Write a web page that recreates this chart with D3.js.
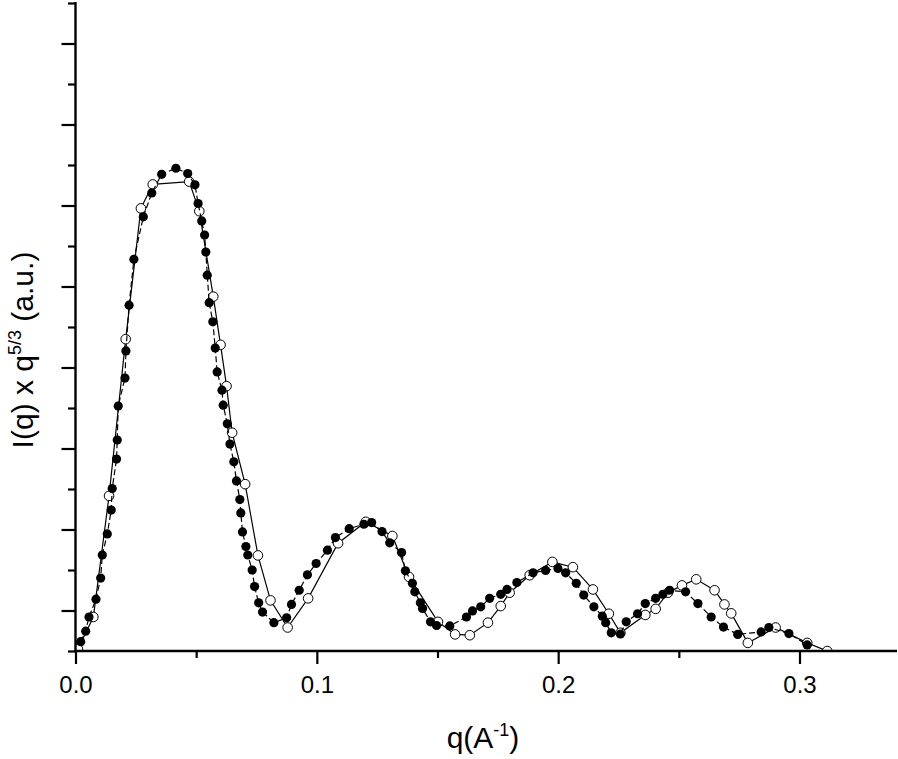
<!DOCTYPE html>
<html><head><meta charset="utf-8">
<script src="https://cdn.jsdelivr.net/npm/d3@7/dist/d3.min.js"></script>
<style>
body{margin:0;background:#fff}
text{font-family:"Liberation Sans",Arial,Helvetica,sans-serif;fill:#000}
</style>
</head><body>
<svg id="chart" width="898" height="759"></svg>
<script>
// Filled circles (dashed line)
const qFilled=[0.00215,0.00422,0.00559,0.00849,0.01043,0.0111,0.01317,0.0148,0.0152,0.0170,0.0173,0.0177,0.0205,0.0209,0.0222,0.0242,0.0281,0.0316,0.0357,0.0416,0.0465,0.0495,0.0508,0.0523,0.0535,0.0540,0.0546,0.0554,0.0569,0.0579,0.0587,0.0607,0.0612,0.0629,0.0640,0.0656,0.0667,0.0681,0.0685,0.0692,0.0706,0.0714,0.0732,0.0742,0.0759,0.0775,0.0822,0.0875,0.0895,0.0927,0.0961,0.0997,0.1044,0.1077,0.1134,0.1195,0.1227,0.1270,0.1302,0.1351,0.1367,0.1396,0.1406,0.1429,0.1438,0.1471,0.1496,0.1551,0.1620,0.1645,0.1679,0.1716,0.1762,0.1788,0.1829,0.1896,0.1948,0.1999,0.2031,0.2075,0.2106,0.2148,0.2183,0.2197,0.2220,0.2258,0.2282,0.2329,0.2361,0.2404,0.2434,0.2462,0.2528,0.2579,0.2634,0.2685,0.2744,0.2841,0.2873,0.2956,0.3032];
const iFilled=[0.23,0.49,0.84,1.28,1.80,2.37,2.89,3.48,4.01,4.74,5.21,6.05,6.74,7.41,8.54,9.67,10.72,11.31,11.77,11.92,11.79,11.51,11.05,10.62,10.27,9.85,9.28,8.60,8.13,7.48,6.89,6.44,6.07,5.61,5.11,4.67,4.20,3.74,3.41,2.94,2.58,2.37,2.00,1.59,1.19,0.96,0.70,0.82,1.15,1.50,1.88,2.16,2.49,2.80,3.02,3.13,3.17,2.95,2.67,2.43,1.98,1.67,1.46,1.19,1.05,0.72,0.63,0.62,0.84,0.99,1.09,1.30,1.40,1.52,1.69,1.93,1.99,2.04,1.93,1.67,1.38,1.09,0.86,0.70,0.45,0.42,0.72,0.92,1.17,1.30,1.40,1.50,1.46,1.17,0.84,0.59,0.41,0.47,0.58,0.43,0.15];
// Open circles (solid line)
const qOpen=[0.0010,0.0074,0.0139,0.0208,0.0271,0.0320,0.0471,0.0513,0.0571,0.0601,0.0626,0.0649,0.0703,0.0756,0.0808,0.0879,0.0964,0.1088,0.1203,0.1313,0.1382,0.1502,0.1573,0.1634,0.1709,0.1762,0.1799,0.1882,0.1976,0.2061,0.2144,0.2210,0.2258,0.2361,0.2404,0.2455,0.2513,0.2572,0.2648,0.2689,0.2717,0.2786,0.2901,0.3032,0.3115];
const iOpen=[0.05,0.84,3.83,7.70,10.93,11.52,11.59,10.86,8.75,7.56,6.54,5.39,4.12,2.36,1.25,0.58,1.30,2.66,3.19,2.84,1.83,0.72,0.41,0.39,0.70,1.11,1.44,1.87,2.20,2.07,1.52,0.92,0.45,0.89,1.04,1.44,1.62,1.77,1.50,1.15,0.93,0.20,0.58,0.20,0.00];

const xMajorTicks=[0,0.1,0.2,0.3];
const xMinorTicks=[0.05,0.15,0.25];
const yMajorTicks=[1,3,5,7,9,11,13,15];
const yMinorTicks=[0,2,4,6,8,10,12,14,16];
const xTitle={base:"q(A",sup:"-1",tail:")"};
const yTitle={base:"I(q) x q",sup:"5/3",tail:" (a.u.)"};

const svg=d3.select("#chart");
const x=d3.scaleLinear().domain([0,0.3]).range([75.5,799.5]);
const y=d3.scaleLinear().domain([0,16]).range([651,3]);
const xEnd=897;

svg.append("defs").append("clipPath").attr("id","plot")
  .append("rect").attr("x",x(0)).attr("y",0).attr("width",xEnd-x(0)).attr("height",y(0));

const g=svg.append("g").attr("clip-path","url(#plot)");
const line=d3.line().x(d=>x(d[0])).y(d=>y(d[1]));
const openPts=qOpen.map((q,i)=>[q,iOpen[i]]);
const filledPts=qFilled.map((q,i)=>[q,iFilled[i]]);

g.append("path").datum(openPts).attr("d",line)
  .attr("fill","none").attr("stroke","#000").attr("stroke-width",1.2);
g.selectAll("circle.open").data(openPts).join("circle").attr("class","open")
  .attr("cx",d=>x(d[0])).attr("cy",d=>y(d[1])).attr("r",4.8)
  .attr("fill","#fff").attr("stroke","#000").attr("stroke-width",1);
g.append("path").datum(filledPts).attr("d",line)
  .attr("fill","none").attr("stroke","#000").attr("stroke-width",1.2)
  .attr("stroke-dasharray","6,3");
g.selectAll("circle.filled").data(filledPts).join("circle").attr("class","filled")
  .attr("cx",d=>x(d[0])).attr("cy",d=>y(d[1])).attr("r",4.6)
  .attr("fill","#000");

// X axis
const xMaj=d3.axisBottom(x).tickValues(xMajorTicks).tickSize(13).tickFormat(d3.format(".1f"));
const xMin=d3.axisBottom(x).tickValues(xMinorTicks).tickSize(7).tickFormat("");
const gx=svg.append("g").attr("transform",`translate(0,${y(0)})`).call(xMaj);
svg.append("g").attr("transform",`translate(0,${y(0)})`).call(xMin).select(".domain").remove();
gx.select(".domain").remove();
svg.selectAll(".tick line").attr("stroke","#000").attr("stroke-width",2.2);
gx.selectAll(".tick text").attr("font-size",24).attr("dy",0).attr("y",42)
  .style("font-family","'Liberation Sans',Arial,sans-serif");
svg.append("line").attr("x1",x(0)-1).attr("x2",xEnd).attr("y1",y(0)).attr("y2",y(0))
  .attr("stroke","#000").attr("stroke-width",2.4);

// Y axis
const yMaj=d3.axisLeft(y).tickValues(yMajorTicks).tickSize(14).tickFormat("");
const yMin=d3.axisLeft(y).tickValues(yMinorTicks).tickSize(7.5).tickFormat("");
const gy1=svg.append("g").attr("transform",`translate(${x(0)},0)`).call(yMaj);
const gy2=svg.append("g").attr("transform",`translate(${x(0)},0)`).call(yMin);
gy1.select(".domain").remove(); gy2.select(".domain").remove();
svg.selectAll(".tick line").attr("stroke","#000").attr("stroke-width",2.2);
svg.append("line").attr("x1",x(0)).attr("x2",x(0)).attr("y1",y(16)-1).attr("y2",y(0)+1)
  .attr("stroke","#000").attr("stroke-width",2.4);

// Titles
const xt=svg.append("text").attr("x",483).attr("y",748).attr("text-anchor","middle").attr("font-size",30);
xt.append("tspan").text(xTitle.base);
xt.append("tspan").attr("font-size",18).attr("dy",-12).text(xTitle.sup);
xt.append("tspan").attr("dy",12).text(xTitle.tail);

const yt=svg.append("text").attr("transform","translate(33,350) rotate(-90)")
  .attr("text-anchor","middle").attr("font-size",30);
yt.append("tspan").text(yTitle.base);
yt.append("tspan").attr("font-size",18).attr("dy",-12).text(yTitle.sup);
yt.append("tspan").attr("dy",12).text(yTitle.tail);
</script>
</body></html>
